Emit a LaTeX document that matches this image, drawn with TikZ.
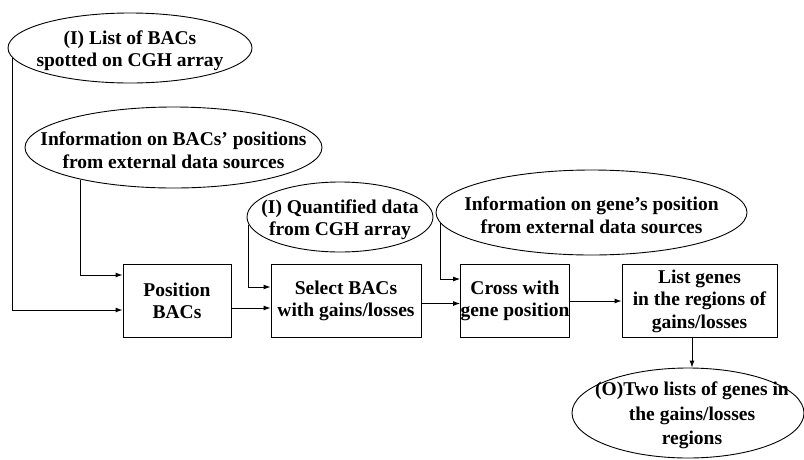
\documentclass[tikz,border=0pt]{standalone}
\usepackage{fontspec}
\setmainfont{Liberation Serif}
\usetikzlibrary{shapes,arrows.meta}

\begin{document}
\begin{tikzpicture}[x=1pt, y=-1pt, >={Latex[length=7pt, width=5pt]}, line width=0.9pt,
	font=\bfseries\fontsize{19.5}{22.5}\selectfont,
	every label/.style={align=center, inner sep=0pt, yshift=-2.5pt},
	src/.style={draw, ellipse, inner sep=0pt},
	stepbox/.style={draw, inner sep=0pt, align=center, minimum height=73}]
\useasboundingbox (0,0) rectangle (804,459);

\node[src, minimum width=244, minimum height=70, label={center:{(I) List of BACs\\spotted on CGH array}}]				(bac list)   at (130,48)    {};
\node[src, minimum width=297, minimum height=81, label={center:{Information on BACs' positions\\from external data sources}}]	(bac pos)	 at (173.5,147.5) {};
\node[src, minimum width=186, minimum height=70, label={center:{(I) Quantified data\\from CGH array}}]				(cgh data)   at (340,217)   {};
\node[src, minimum width=311, minimum height=85, label={center:{Information on gene's position\\from external data sources}}]	(gene pos)   at (591.5,212.5) {};
\node[src, minimum width=232, minimum height=90, label={[font=\bfseries\fontsize{19.5}{24.5}\selectfont, xshift=4pt]center:{(O)Two lists of genes in\\the gains/losses\\regions}}]		(out lists)  at (688,413)   {};

\node[stepbox, minimum width=108]	(position)   at (177,301)   {Position\\BACs};
\node[stepbox, minimum width=150]	(select)	 at (346,301)   {Select BACs\\with gains/losses};
\node[stepbox, minimum width=108]	(cross)		 at (515,301)   {Cross with\\gene position};
\node[stepbox, minimum width=155]	(list genes) at (699.5,301) {List genes\\in the regions of\\gains/losses};
\coordinate[xshift=-7.5pt] (genes out) at (list genes.south);

\draw[->] (bac list.185) |- ([yshift=-9pt]position.west);
\draw[->] (bac pos.199) |- ([yshift=26pt]position.west);
\draw[->] ([yshift=-7pt]position.east) -- ([yshift=-7pt]select.west);
\draw[->] (cgh data.185) |- ([yshift=14pt]select.west);
\draw[->] ([yshift=-2.5pt]select.east) -- ([yshift=-2.5pt]cross.west);
\draw[->] (gene pos.184) |- ([yshift=22pt]cross.west);
\draw[->] (cross) -- (list genes);
\draw[->] (genes out) -- (genes out |- out lists.north);

\end{tikzpicture}
\end{document}
